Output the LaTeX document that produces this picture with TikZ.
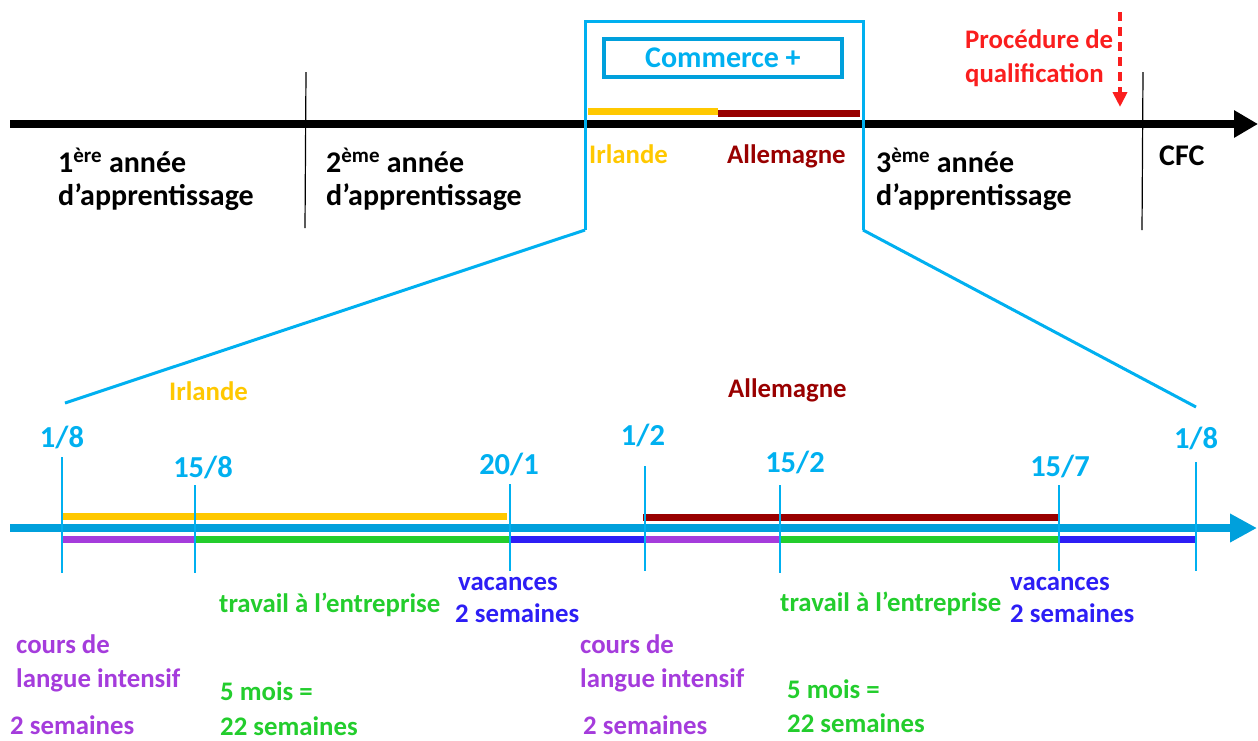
\documentclass[tikz,border=0pt]{standalone}
\usepackage{fontspec}
\setmainfont{Carlito}
\usetikzlibrary{arrows.meta}
\definecolor{axisblue}{RGB}{0,160,220}
\definecolor{frameblue}{RGB}{0,176,240}
\definecolor{irl}{RGB}{255,200,0}
\definecolor{ger}{RGB}{153,0,0}
\definecolor{work}{RGB}{35,205,45}
\definecolor{holiday}{RGB}{45,30,245}
\definecolor{lang}{RGB}{165,60,220}
\definecolor{qualred}{RGB}{250,30,30}
\tikzstyle{txt}=[inner sep=0pt, anchor=base west, font=\bfseries\fontsize{26.8}{30}\selectfont]
\tikzstyle{yeartxt}=[txt, font=\bfseries\fontsize{30}{33}\selectfont]
\tikzstyle{datetxt}=[inner sep=0pt, anchor=base, text=frameblue, font=\bfseries\fontsize{30.5}{34}\selectfont]
\tikzstyle{tick}=[frameblue, line width=1.2pt]
\tikzstyle{bar}=[line width=7pt]

\begin{document}
\begin{tikzpicture}[x=1pt, y=-1pt]
\useasboundingbox (0,0) rectangle (1258,740);
% Upper time line
    \coordinate (ustart) at (10,124);
    \coordinate (uend) at (1258,124);
    \draw[line width=8pt, -{Triangle[length=24pt,width=26pt]}] (ustart) -- (uend);
    \coordinate (s1) at (306,72);
    \coordinate (s1b) at (305,228);
    \coordinate (s2) at (1143,72);
    \coordinate (s2b) at (1142,230);
    \draw[line width=1.2pt] (s1) -- (s1b);
    \draw[line width=1.2pt] (s2) -- (s2b);
    \coordinate (ua) at (588,111);
    \coordinate (ub) at (718,111);
    \coordinate (uc) at (718,113);
    \coordinate (ud) at (860,113);
    \draw[bar, irl] (ua) -- (ub);
    \draw[bar, ger] (uc) -- (ud);
%Years
    \node[yeartxt] (y1a) at (58,172) {1\textsuperscript{ère} année};
    \node[yeartxt] (y1b) at (58,205) {d’apprentissage};
    \node[yeartxt] (y2a) at (326,172) {2\textsuperscript{ème} année};
    \node[yeartxt] (y2b) at (326,205) {d’apprentissage};
    \node[yeartxt] (y3a) at (876,172) {3\textsuperscript{ème} année};
    \node[yeartxt] (y3b) at (876,205) {d’apprentissage};
    \node[yeartxt] (cfc) at (1159,165) {CFC};
    \node[txt, irl] (irltop) at (589,163) {Irlande};
    \node[txt, ger] (gertop) at (727,163) {Allemagne};
%Qualification
    \node[txt, qualred] (pq1) at (965,48) {Procédure de};
    \node[txt, qualred] (pq2) at (965,82) {qualification};
    \coordinate (qa) at (1120,12);
    \coordinate (qb) at (1120,107);
    \draw[qualred, line width=4.5pt, dash pattern=on 9pt off 6pt, -{Triangle[length=15pt,width=14pt]}] (qa) -- (qb);
%Zoom frame
    \node[draw=axisblue, line width=4pt, minimum width=238pt, minimum height=38pt, inner sep=0pt, text=frameblue, font=\bfseries\fontsize{30}{34}\selectfont] (cplus) at (723,58) {Commerce +};
    \coordinate (fbl) at (585,230);
    \coordinate (ftl) at (585,21);
    \coordinate (ftr) at (863,21);
    \coordinate (fbr) at (863,230);
    \coordinate (zl) at (65,403);
    \coordinate (zr) at (1196,407);
    \draw[frameblue, line width=3pt] (fbl) -- (ftl) -- (ftr) -- (fbr);
    \draw[frameblue, line width=3pt] (fbl) -- (zl);
    \draw[frameblue, line width=3pt] (fbr) -- (zr);
    \node[txt, irl] (irllow) at (169,400) {Irlande};
    \node[txt, ger] (gerlow) at (728,397) {Allemagne};
%Lower time line
    \coordinate (lstart) at (10,528);
    \coordinate (lend) at (1257,528);
    \draw[axisblue, line width=8pt, -{Triangle[length=27pt,width=27pt]}] (lstart) -- (lend);
    \coordinate (ya) at (63,516);
    \coordinate (yb) at (507,516);
    \coordinate (ra) at (643,517);
    \coordinate (rb) at (1058,517);
    \draw[bar, irl] (ya) -- (yb);
    \draw[bar, ger] (ra) -- (rb);
    \coordinate (p1) at (62,539);
    \coordinate (p2) at (196,539);
    \coordinate (p3) at (510,539);
    \coordinate (p4) at (645,539);
    \coordinate (p5) at (780,539);
    \coordinate (p6) at (1059,539);
    \coordinate (p7) at (1196,539);
    \draw[bar, lang] (p1) -- (p2);
    \draw[bar, work] (p2) -- (p3);
    \draw[bar, holiday] (p3) -- (p4);
    \draw[bar, lang] (p4) -- (p5);
    \draw[bar, work] (p5) -- (p6);
    \draw[bar, holiday] (p6) -- (p7);
%Ticks
    \coordinate (k1) at (62,457);
    \coordinate (k1b) at (62,573);
    \coordinate (k2) at (195,485);
    \coordinate (k2b) at (195,573);
    \coordinate (k3) at (510,484);
    \coordinate (k3b) at (510,571);
    \coordinate (k4) at (645,466);
    \coordinate (k4b) at (645,571);
    \coordinate (k5) at (780,485);
    \coordinate (k5b) at (780,573);
    \coordinate (k6) at (1059,485);
    \coordinate (k6b) at (1059,571);
    \coordinate (k7) at (1196,462);
    \coordinate (k7b) at (1196,571);
    \draw[tick] (k1) -- (k1b);
    \draw[tick] (k2) -- (k2b);
    \draw[tick] (k3) -- (k3b);
    \draw[tick] (k4) -- (k4b);
    \draw[tick] (k5) -- (k5b);
    \draw[tick] (k6) -- (k6b);
    \draw[tick] (k7) -- (k7b);
%Dates
    \node[datetxt] (d1) at (62,447) {1/8};
    \node[datetxt] (d2) at (203,477) {15/8};
    \node[datetxt] (d3) at (509,474) {20/1};
    \node[datetxt] (d4) at (643,445) {1/2};
    \node[datetxt] (d5) at (795,472) {15/2};
    \node[datetxt] (d6) at (1060,476) {15/7};
    \node[datetxt] (d7) at (1196,448) {1/8};
%Periods
    \node[txt, work] (work1) at (219,612) {travail à l’entreprise};
    \node[txt, work] (work2) at (780,611) {travail à l’entreprise};
    \node[txt, holiday] (vac1a) at (458,590) {vacances};
    \node[txt, holiday] (vac1b) at (455,622) {2 semaines};
    \node[txt, holiday] (vac2a) at (1010,590) {vacances};
    \node[txt, holiday] (vac2b) at (1010,622) {2 semaines};
    \node[txt, lang] (lang1a) at (16,653) {cours de};
    \node[txt, lang] (lang1b) at (16,687) {langue intensif};
    \node[txt, lang] (lang1c) at (10,734) {2 semaines};
    \node[txt, lang] (lang2a) at (580,653) {cours de};
    \node[txt, lang] (lang2b) at (580,687) {langue intensif};
    \node[txt, lang] (lang2c) at (583,734) {2 semaines};
    \node[txt, work] (mois1a) at (220,700) {5 mois =};
    \node[txt, work] (mois1b) at (220,735) {22 semaines};
    \node[txt, work] (mois2a) at (787,698) {5 mois =};
    \node[txt, work] (mois2b) at (787,732) {22 semaines};
\end{tikzpicture}
\end{document}
